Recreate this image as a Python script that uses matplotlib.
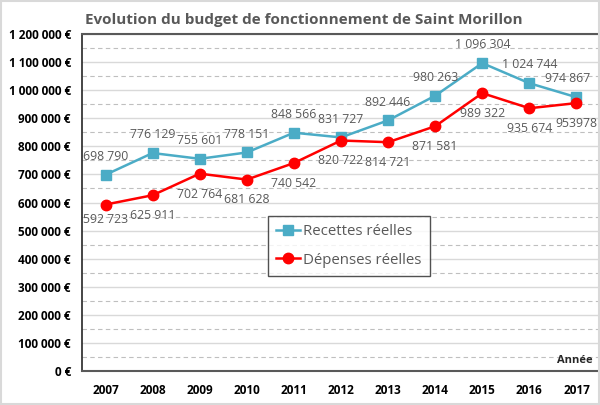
import matplotlib.pyplot as plt
from matplotlib.ticker import FuncFormatter, MultipleLocator

annees = ["2007", "2008", "2009", "2010", "2011", "2012", "2013", "2014", "2015", "2016", "2017"]
recettes = [698790, 776129, 755601, 778151, 848566, 831727, 892446, 980263, 1096304, 1024744, 974867]
depenses = [592723, 625911, 702764, 681628, 740542, 820722, 814721, 871581, 989322, 935674, 953978]
etiq_recettes = ["698 790", "776 129", "755 601", "778 151", "848 566", "831 727",
                 "892 446", "980 263", "1 096 304", "1 024 744", "974 867"]
etiq_depenses = ["592 723", "625 911", "702 764", "681 628", "740 542", "820 722",
                 "814 721", "871 581", "989 322", "935 674", "953978"]

plt.rcParams['font.family'] = ['Open Sans', 'DejaVu Sans']

fig = plt.figure(figsize=(6, 4.05), dpi=100)
ax = fig.add_axes([82/600, 34/405, 518/600, 337/405])

x = list(range(len(annees)))
ax.plot(x, recettes, color="#4BACC6", lw=1.8, marker="s", ms=7, label="Recettes réelles", zorder=3)
ax.plot(x, depenses, color="#FF0000", lw=1.8, marker="o", ms=7.5, label="Dépenses réelles", zorder=3)

# étiquettes de données
for i in x:
    dx = -6 if i == len(x) - 1 else 0
    dy = -6 if i == 0 else -10
    ax.annotate(etiq_recettes[i], (i, recettes[i]), xytext=(dx, 8.5), textcoords="offset points",
                ha="center", va="bottom", fontsize=8.8, color="#595959")
    ax.annotate(etiq_depenses[i], (i, depenses[i]), xytext=(0, dy), textcoords="offset points",
                ha="center", va="top", fontsize=8.8, color="#595959")

ax.set_xlim(-0.5, 10.5)
ax.set_ylim(0, 1200000)
ax.set_xticks(x)
ax.set_xticklabels(annees, fontweight="bold", fontsize=8.5)
ax.yaxis.set_major_locator(MultipleLocator(100000))
ax.yaxis.set_minor_locator(MultipleLocator(50000))
ax.yaxis.set_major_formatter(FuncFormatter(lambda v, p: f"{int(v):,} €".replace(",", " ")))
for lab in ax.get_yticklabels():
    lab.set_fontweight("bold")
ax.tick_params(axis="y", labelsize=8.5, length=0, pad=8, which="both")
ax.tick_params(axis="x", length=0, pad=9)

ax.grid(axis="y", which="major", color="#D9D9D9", lw=1)
ax.grid(axis="y", which="minor", color="#BFBFBF", lw=0.8, ls=(0, (4, 3)))
ax.set_axisbelow(True)

ax.spines["right"].set_visible(False)
ax.spines["left"].set_color("#262626")
ax.spines["top"].set_color("#595959")
ax.spines["bottom"].set_color("#595959")
ax.spines["left"].set_linewidth(1.2)
ax.spines["bottom"].set_linewidth(1.5)
ax.spines["top"].set_linewidth(1.5)

ax.text(0.985, 0.015, "Année", transform=ax.transAxes, ha="right", va="bottom",
        fontsize=8, fontweight="bold", color="#262626")

leg = ax.legend(loc="upper left", bbox_to_anchor=(0.359, 0.46), borderaxespad=0,
                fontsize=10.8, frameon=True, fancybox=False, edgecolor="#262626",
                handlelength=1.6, handletextpad=0.2, labelspacing=0.9, borderpad=0.55)
leg.get_frame().set_linewidth(1)
for t in leg.get_texts():
    t.set_color("#595959")

fig.text(85/600, 1 - 20/405, "Evolution du budget de fonctionnement de Saint Morillon",
         fontsize=11, fontweight="bold", color="#595959", ha="left", va="center")

fig.patches.append(plt.Rectangle((0.002, 0.002), 0.996, 0.996, transform=fig.transFigure,
                                 fill=False, edgecolor="#D9D9D9", lw=1.5))

fig.savefig("out.png", dpi=100)
